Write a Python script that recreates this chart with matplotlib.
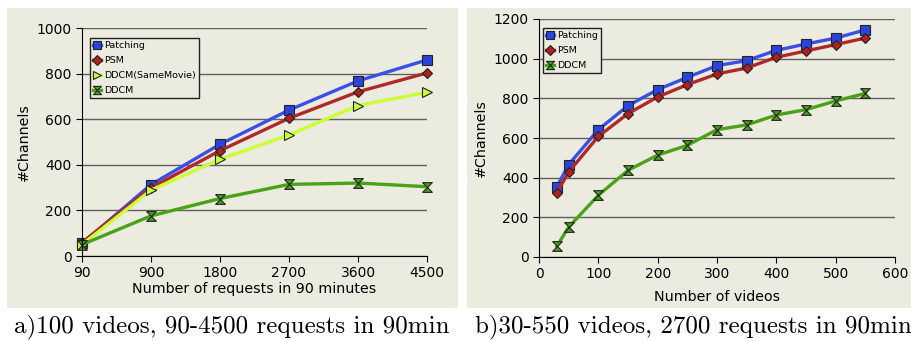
import numpy as np
import matplotlib
matplotlib.use('Agg')
import matplotlib.pyplot as plt
from matplotlib.patches import Rectangle

# panel a) requests
req_labels = ['90', '900', '1800', '2700', '3600', '4500']
a_patching = [55, 313, 490, 640, 768, 860]
a_psm = [59, 299, 462, 604, 720, 803]
a_same = [50, 289, 424, 531, 660, 718]
a_ddcm = [50, 176, 252, 314, 320, 304]

# panel b) videos
videos = [30, 50, 100, 150, 200, 250, 300, 350, 400, 450, 500, 550]
b_patching = [353, 466, 642, 763, 844, 906, 965, 990, 1042, 1074, 1104, 1145]
b_psm = [323, 429, 608, 723, 807, 869, 923, 953, 1007, 1039, 1071, 1104]
b_ddcm = [54, 151, 311, 437, 514, 563, 642, 666, 716, 743, 787, 825]

bg = '#ebebdf'
hourglass = [(-1, 1), (1, 1), (-1, -1), (1, -1), (-1, 1)]

styles = {
    'Patching': dict(color='#3a4fe6', marker='s', mfc='#2a44dd', ms=7.5),
    'PSM': dict(color='#b02828', marker='D', mfc='#b02020', ms=5.5),
    'DDCM(SameMovie)': dict(color='#ccff33', marker='>', mfc='#ccff33', ms=7.5),
    'DDCM': dict(color='#4aa316', marker=hourglass, mfc='#4aa316', ms=7),
}

fig = plt.figure(figsize=(9.11, 3.41), dpi=100)
W, H = 911.0, 341.0
fig.patches.append(Rectangle((7 / W, 1 - 308 / H), 451 / W, 300 / H, transform=fig.transFigure,
                             facecolor=bg, edgecolor='none', zorder=-10))
fig.patches.append(Rectangle((467 / W, 1 - 308 / H), 444 / W, 300 / H, transform=fig.transFigure,
                             facecolor=bg, edgecolor='none', zorder=-10))

ax1 = fig.add_axes([82 / W, 1 - 256 / H, 345 / W, 228 / H])
ax2 = fig.add_axes([539 / W, 1 - 257 / H, 356 / W, 238 / H])


def draw(ax, x, series):
    for name, y in series:
        st = styles[name]
        ax.plot(x, y, color=st['color'], lw=2.4, marker=st['marker'], ms=st['ms'],
                mfc=st['mfc'], mec='#222222', mew=0.8, label=name, clip_on=False)


def style(ax, anchor):
    ax.set_facecolor(bg)
    for s in ['top', 'right']:
        ax.spines[s].set_visible(False)
    ax.yaxis.grid(True, color='#606060', lw=1.0)
    ax.set_axisbelow(True)
    ax.tick_params(labelsize=10, direction='out', length=4)
    ax.set_ylabel('#Channels', fontsize=10.3)
    leg = ax.legend(loc='upper left', bbox_to_anchor=anchor, fontsize=6.8, fancybox=False,
                    framealpha=1, facecolor=bg, edgecolor='#222222', handlelength=0.8,
                    handletextpad=0.3, borderpad=0.35, labelspacing=0.62, borderaxespad=0,
                    markerscale=0.85)
    leg.get_frame().set_linewidth(1.0)


xi = np.arange(len(req_labels))
draw(ax1, xi, [('Patching', a_patching), ('PSM', a_psm),
               ('DDCM(SameMovie)', a_same), ('DDCM', a_ddcm)])
ax1.set_xlim(0, len(req_labels) - 1)
ax1.set_xticks(xi)
ax1.set_xticklabels(req_labels)
ax1.set_ylim(0, 1000)
ax1.set_yticks(range(0, 1001, 200))
ax1.set_xlabel('Number of requests in 90 minutes', fontsize=10.3, labelpad=1)
style(ax1, (8 / 345, 1 - 10 / 228))

draw(ax2, videos, [('Patching', b_patching), ('PSM', b_psm), ('DDCM', b_ddcm)])
ax2.set_xlim(0, 600)
ax2.set_xticks(range(0, 601, 100))
ax2.set_ylim(0, 1200)
ax2.set_yticks(range(0, 1201, 200))
ax2.set_xlabel('Number of videos', fontsize=10.3, labelpad=6)
style(ax2, (4 / 356, 1 - 9 / 238))

fig.text(232 / W, 1 - 327 / H, 'a)100 videos, 90-4500 requests in 90min',
         ha='center', va='center', fontsize=18, family='cmr10')
fig.text(693 / W, 1 - 327 / H, 'b)30-550 videos, 2700 requests in 90min',
         ha='center', va='center', fontsize=18, family='cmr10')

fig.savefig('out.png', dpi=100)
